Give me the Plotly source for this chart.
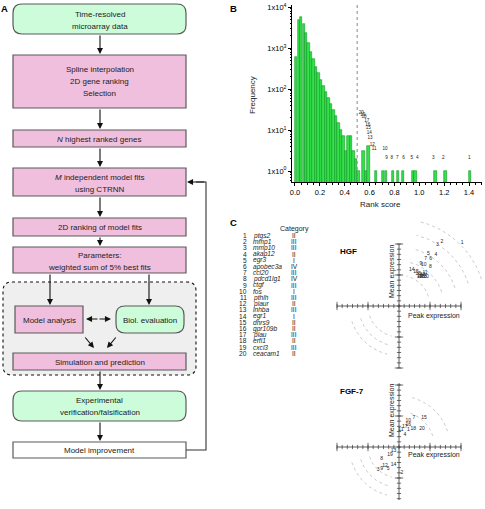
import numpy as np
import plotly.graph_objects as go

W, H = 485, 509
FONT = "Liberation Sans, Arial, sans-serif"


def px(x):
    return x / W


def py(y):
    return 1 - y / H


# ---------------- data ----------------
# Panel B: histogram of rank scores (bin centres, counts)
rank_bins = [0.01, 0.03, 0.05, 0.07, 0.09, 0.11, 0.13, 0.15, 0.17, 0.19,
             0.21, 0.23, 0.25, 0.27, 0.29, 0.31, 0.33, 0.35, 0.37, 0.39,
             0.41, 0.43, 0.45, 0.47, 0.49,
             0.51, 0.55, 0.57, 0.59, 0.65,
             0.71, 0.73, 0.79, 0.83, 0.87, 0.95, 0.97, 1.13, 1.21, 1.41]
frequency = [600, 4800, 5700, 3900, 2300, 1300, 800, 540, 345, 245,
             165, 118, 85, 60, 42, 30, 22, 15, 10, 7,
             3, 7, 7, 3, 2,
             1, 3, 1, 4, 1,
             1, 1, 1, 1, 1, 1, 1, 1, 1, 1]
cutoff = 0.5
# labels of the 20 best genes in the histogram (rank score, frequency position)
gene_rank_labels = [str(i) for i in range(1, 21)]
gene_rank_x = [1.402, 1.193, 1.113, 0.984, 0.939, 0.872, 0.823, 0.778, 0.737, 0.724,
               0.636, 0.622, 0.603, 0.598, 0.590, 0.585, 0.577, 0.555, 0.545, 0.533]
gene_rank_y = [2.15, 2.15, 2.15, 2.15, 2.15, 2.15, 2.15, 2.15, 2.15, 3.55,
               3.55, 4.25, 6.3, 8.5, 11.0, 13.2, 17.0, 20.4, 23.4, 25.7]
y_tick_vals = [1, 10, 100, 1000, 10000]
y_tick_text = ["1x10<sup>0</sup>", "1x10<sup>1</sup>", "1x10<sup>2</sup>",
               "1x10<sup>3</sup>", "1x10<sup>4</sup>"]
x_tick_vals = [0.0, 0.2, 0.4, 0.6, 0.8, 1.0, 1.2, 1.4]
x_tick_text = ["0.0", "0.2", "0.4", "0.6", "0.8", "1.0", "1.2", "1.4"]

# Panel C: gene table
gene_numbers = [str(i) for i in range(1, 21)]
gene_names = ["ptgs2", "mmp1", "mmp10", "akap12", "egr3", "apobec3a", "ccl20",
              "pdcd1lg1", "ctgf", "fos", "pthlh", "plaur", "inhba", "egr1",
              "dhrs9", "gpr109b", "plau", "erfi1", "cxcl3", "ceacam1"]
gene_category = ["II", "III", "III", "II", "I", "IV", "III", "IV", "III", "I",
                 "III", "II", "III", "I", "II", "II", "III", "II", "III", "II"]

# Panel C: HGF peak / mean expression
hgf_labels = [str(i) for i in range(1, 21)]
hgf_peak = [2.04, 1.38, 1.24, 1.19, 0.95, 1.02, 0.86, 1.01, 0.71, 0.80,
            0.84, 0.76, 0.68, 0.41, 0.55, 0.62, 0.73, 0.81, 0.66, 0.87]
hgf_mean = [2.05, 2.07, 1.97, 1.65, 1.70, 1.52, 1.51, 1.27, 1.37, 1.32,
            1.07, 1.00, 0.97, 1.18, 1.11, 1.03, 0.93, 0.95, 0.93, 0.95]
# Panel C: FGF-7 peak / mean expression
fgf_labels = ["1", "2", "3", "4", "5", "7", "8", "9", "10", "11", "12", "13",
              "14", "15", "16", "17", "18", "19", "20"]
fgf_peak = [0.30, 0.09, -0.67, 0.19, -0.35, 0.48, -0.56, -0.56, 0.30, 0.06,
            -0.45, -0.18, -0.18, 0.81, 0.30, 0.19, 0.46, -0.29, 0.74]
fgf_mean = [0.55, -0.83, -0.74, 0.39, -0.69, 0.93, -0.39, -0.71, 0.84, 0.57,
            -0.60, -0.13, -0.56, 0.93, 0.71, 0.66, 0.60, -0.26, 0.60]

# ---------------- figure ----------------
fig = go.Figure()

# Histogram
fig.add_trace(go.Bar(x=rank_bins, y=frequency, width=0.019,
                     marker=dict(color="#35e04a", line=dict(color="#0c9a22", width=0.6)),
                     xaxis="x", yaxis="y", showlegend=False, hoverinfo="skip"))
fig.add_trace(go.Scatter(x=gene_rank_x, y=gene_rank_y, text=gene_rank_labels,
                         mode="text", textfont=dict(size=4.6, color="#222", family=FONT),
                         xaxis="x", yaxis="y", showlegend=False, cliponaxis=False, hoverinfo="skip"))

minor_y = [k * 10 ** d for d in range(-1, 4) for k in range(2, 10) if k * 10 ** d >= 0.55]

layout_axes = dict(
    xaxis=dict(domain=[px(292), px(482)], range=[-0.024, 1.504], anchor="y", automargin=False,
               showline=True, linecolor="black", linewidth=1, ticks="outside",
               ticklen=3, tickwidth=0.8, tickcolor="black",
               tickvals=x_tick_vals, ticktext=x_tick_text,
               tickfont=dict(size=7.5, family=FONT, color="black"),
               minor=dict(ticks="outside", ticklen=1.5, dtick=0.05, tickcolor="black", tickwidth=0.6),
               showgrid=False, zeroline=False),
    yaxis=dict(domain=[py(182), py(5)], type="log", range=[-0.268, 4.05], anchor="x", automargin=False,
               showline=True, linecolor="black", linewidth=1, ticks="outside",
               ticklen=3, tickwidth=0.8, tickcolor="black",
               tickvals=y_tick_vals, ticktext=y_tick_text,
               tickfont=dict(size=7.5, family=FONT, color="black"),
               minor=dict(ticks="outside", ticklen=1.5, tickvals=minor_y, tickcolor="black", tickwidth=0.6),
               showgrid=False, zeroline=False),
)

# Crosshair plots: 31 px per unit; HGF centre (399,306), FGF centre (399,447)
UNIT = 31.0
hx0, hx1 = (318 - 399) / UNIT, (485 - 399) / UNIT
layout_axes["xaxis2"] = dict(domain=[px(318), px(485)], range=[hx0, hx1], anchor="y2", visible=False,
                             automargin=False)
layout_axes["yaxis2"] = dict(domain=[py(374), py(214)], range=[(306 - 374) / UNIT, (306 - 214) / UNIT],
                             anchor="x2", visible=False, automargin=False)
layout_axes["xaxis3"] = dict(domain=[px(318), px(485)], range=[hx0, hx1], anchor="y3", visible=False,
                             automargin=False)
layout_axes["yaxis3"] = dict(domain=[py(509), py(376)], range=[(447 - 509) / UNIT, (447 - 376) / UNIT],
                             anchor="x3", visible=False, automargin=False)


def crosshair(xa, ya, ybot, ytop, q1_radii, q3_radii, labels, xs, ys):
    # axes
    fig.add_trace(go.Scatter(x=[-2, 2], y=[0, 0], mode="lines", line=dict(color="#333", width=0.8),
                             xaxis=xa, yaxis=ya, showlegend=False, hoverinfo="skip"))
    fig.add_trace(go.Scatter(x=[0, 0], y=[ybot, ytop], mode="lines", line=dict(color="#333", width=0.8),
                             xaxis=xa, yaxis=ya, showlegend=False, hoverinfo="skip"))
    minor = np.arange(-12, 13) / 6.0
    fig.add_trace(go.Scatter(x=minor, y=np.zeros_like(minor), mode="markers",
                             marker=dict(symbol="line-ns", size=3, line=dict(color="#333", width=0.7)),
                             xaxis=xa, yaxis=ya, showlegend=False, hoverinfo="skip"))
    fig.add_trace(go.Scatter(x=[-2, -1, 1, 2], y=[0, 0, 0, 0], mode="markers",
                             marker=dict(symbol="line-ns", size=6, line=dict(color="#333", width=0.7)),
                             xaxis=xa, yaxis=ya, showlegend=False, hoverinfo="skip"))
    vm = minor[(minor >= ybot - 1e-9) & (minor <= ytop + 1e-9)]
    fig.add_trace(go.Scatter(x=np.zeros_like(vm), y=vm, mode="markers",
                             marker=dict(symbol="line-ew", size=3, line=dict(color="#333", width=0.7)),
                             xaxis=xa, yaxis=ya, showlegend=False, hoverinfo="skip"))
    vmaj = [v for v in [-2, -1, 1, 2] if ybot - 1e-9 <= v <= ytop + 1e-9]
    fig.add_trace(go.Scatter(x=[0] * len(vmaj), y=vmaj, mode="markers",
                             marker=dict(symbol="line-ew", size=6, line=dict(color="#333", width=0.7)),
                             xaxis=xa, yaxis=ya, showlegend=False, hoverinfo="skip"))
    # dotted arcs
    for r in q1_radii:
        t = np.radians(np.linspace(18, 76, 40))
        fig.add_trace(go.Scatter(x=r * np.cos(t), y=r * np.sin(t), mode="lines",
                                 line=dict(color="#a8a8a8", width=0.6, dash="dot"),
                                 xaxis=xa, yaxis=ya, showlegend=False, hoverinfo="skip"))
    for r in q3_radii:
        t = np.radians(np.linspace(198, 256, 40))
        fig.add_trace(go.Scatter(x=r * np.cos(t), y=r * np.sin(t), mode="lines",
                                 line=dict(color="#a8a8a8", width=0.6, dash="dot"),
                                 xaxis=xa, yaxis=ya, showlegend=False, hoverinfo="skip"))
    fig.add_trace(go.Scatter(x=xs, y=ys, text=labels, mode="text",
                             textfont=dict(size=5, color="#222", family=FONT),
                             xaxis=xa, yaxis=ya, showlegend=False, cliponaxis=False, hoverinfo="skip"))


crosshair("x2", "y2", -2, 2, [1.0, 1.45, 1.9, 2.35, 2.8], [1.0, 1.3, 1.6],
          hgf_labels, hgf_peak, hgf_mean)
crosshair("x3", "y3", -1.71, 2.06, [1.15, 1.65], [1.0, 1.3, 1.6],
          fgf_labels, fgf_peak, fgf_mean)

# ---------------- flowchart (panel A) ----------------
shapes = []
ann = []


def rrect(x0, y0, x1, y1, r):
    X = lambda v: f"{px(v):.5f}"
    Y = lambda v: f"{py(v):.5f}"
    return (f"M {X(x0 + r)},{Y(y0)} L {X(x1 - r)},{Y(y0)} Q {X(x1)},{Y(y0)} {X(x1)},{Y(y0 + r)} "
            f"L {X(x1)},{Y(y1 - r)} Q {X(x1)},{Y(y1)} {X(x1 - r)},{Y(y1)} "
            f"L {X(x0 + r)},{Y(y1)} Q {X(x0)},{Y(y1)} {X(x0)},{Y(y1 - r)} "
            f"L {X(x0)},{Y(y0 + r)} Q {X(x0)},{Y(y0)} {X(x0 + r)},{Y(y0)} Z")


PINK = "#efbfdd"
GREEN = "#ccfcd9"
EDGE = "#5a5a5a"


def box(x0, y0, x1, y1, fill, rounded=False, dash=None, edge=EDGE, w=1.2):
    line = dict(color=edge, width=w)
    if dash:
        line["dash"] = dash
    if rounded:
        shapes.append(dict(type="path", path=rrect(x0, y0, x1, y1, rounded), xref="paper", yref="paper",
                           fillcolor=fill, line=line, layer="below"))
    else:
        shapes.append(dict(type="rect", x0=px(x0), x1=px(x1), y0=py(y0), y1=py(y1), xref="paper",
                           yref="paper", fillcolor=fill, line=line, layer="below"))


def text(x, y, s, size=8, anchor="center", bold=False, color="#222", angle=0):
    if bold:
        s = f"<b>{s}</b>"
    ann.append(dict(x=px(x), y=py(y), xref="paper", yref="paper", text=s, showarrow=False,
                    xanchor=anchor, yanchor="middle", textangle=angle,
                    font=dict(size=size, family=FONT, color=color)))


def arrow(xt, yt, xh, yh, w=1.1):
    ann.append(dict(x=px(xh), y=py(yh), xref="paper", yref="paper", ax=xt - xh, ay=yt - yh,
                    axref="pixel", ayref="pixel", text="", showarrow=True, arrowhead=2,
                    arrowsize=1.1, arrowwidth=w, arrowcolor="#111"))


# dashed grey region
box(3, 282, 196, 375, "#efefef", rounded=9, dash="dot", edge="#111", w=1.1)
box(13, 4, 186, 34, GREEN, rounded=9)
box(13, 55, 186, 108, PINK)
box(13, 130, 186, 147, PINK)
box(13, 168, 186, 196, PINK)
box(13, 218, 186, 236, PINK)
box(13, 247, 186, 273, PINK)
box(15, 306, 83, 333, PINK)
box(116, 306, 184, 333, GREEN, rounded=9)
box(13, 353, 186, 370, PINK)
box(13, 391, 186, 421, GREEN, rounded=9)
box(13, 442, 186, 458, "white")

text(99.5, 15, "Time-resolved")
text(99.5, 26, "microarray data")
text(99.5, 69, "Spline interpolation")
text(99.5, 81, "2D gene ranking")
text(99.5, 93, "Selection")
text(99.5, 139, "<i>N</i> highest ranked genes")
text(99.5, 177, "<i>M</i> independent model fits")
text(99.5, 189, "using CTRNN")
text(99.5, 227, "2D ranking of model fits")
text(99.5, 255, "Parameters:")
text(99.5, 267, "weighted sum of 5% best fits")
text(49, 320, "Model analysis")
text(150, 320, "Biol. evaluation")
text(99.5, 362, "Simulation and prediction")
text(99.5, 400, "Experimental")
text(99.5, 412, "verification/falsification")
text(99.5, 450, "Model improvement")

arrow(100, 34, 100, 54)
arrow(100, 108, 100, 129)
arrow(100, 147, 100, 167)
arrow(100, 196, 100, 217)
arrow(100, 236, 100, 246)
arrow(50, 273, 50, 305)
arrow(149, 273, 149, 305)
arrow(99, 319, 86, 319)
arrow(98, 319, 111, 319)
arrow(84, 336, 94, 348)
arrow(117, 336, 107, 348)
arrow(100, 370, 100, 390)
arrow(100, 421, 100, 441)
# feedback loop
shapes.append(dict(type="path", xref="paper", yref="paper",
                   path=f"M {px(186)},{py(450)} L {px(206)},{py(450)} L {px(206)},{py(182)} L {px(196)},{py(182)}",
                   line=dict(color="#333", width=1.1)))
arrow(206, 182, 187, 182)

# panel letters
text(4, 8, "A", size=9.5, anchor="center", bold=True, color="black")
text(233, 8, "B", size=9.5, anchor="center", bold=True, color="black")
text(233, 222, "C", size=9.5, anchor="center", bold=True, color="black")

# histogram axis titles
text(253, 95, "Frequency", size=8, angle=-90)
text(380, 204, "Rank score", size=8)

# cutoff line
shapes.append(dict(type="line", xref="x", yref="y domain", x0=cutoff, x1=cutoff, y0=0, y1=1,
                   line=dict(color="#888", width=1, dash="dot")))

# gene table
text(294, 229, "Category", size=7)
for i, (n, g, c) in enumerate(zip(gene_numbers, gene_names, gene_category)):
    yy = 235.5 + i * 6.2
    text(249, yy, n, size=6.6, anchor="right")
    text(251, yy, f"<i>{g}</i>", size=6.6, anchor="left")
    text(294, yy, c, size=6.6)

# crosshair titles
text(338, 252, "HGF", size=8, anchor="left", bold=True, color="black")
text(338, 391, "FGF-7", size=8, anchor="left", bold=True, color="black")
text(392, 272, "Mean expression", size=7, angle=-90)
text(434, 316, "Peak expression", size=7)
text(392, 411, "Mean expression", size=7, angle=-90)
text(434, 455, "Peak expression", size=7)

fig.update_layout(
    template="none",
    width=W, height=H, autosize=False,
    margin=dict(l=0, r=0, t=0, b=0, pad=0),
    paper_bgcolor="white", plot_bgcolor="rgba(0,0,0,0)",
    shapes=shapes, annotations=ann, bargap=0,
    font=dict(family=FONT, color="#222"),
    **layout_axes,
)

fig.write_html("out.html", config={"displayModeBar": False},
               post_script="document.body.style.margin='0px';document.body.style.padding='0px';")
